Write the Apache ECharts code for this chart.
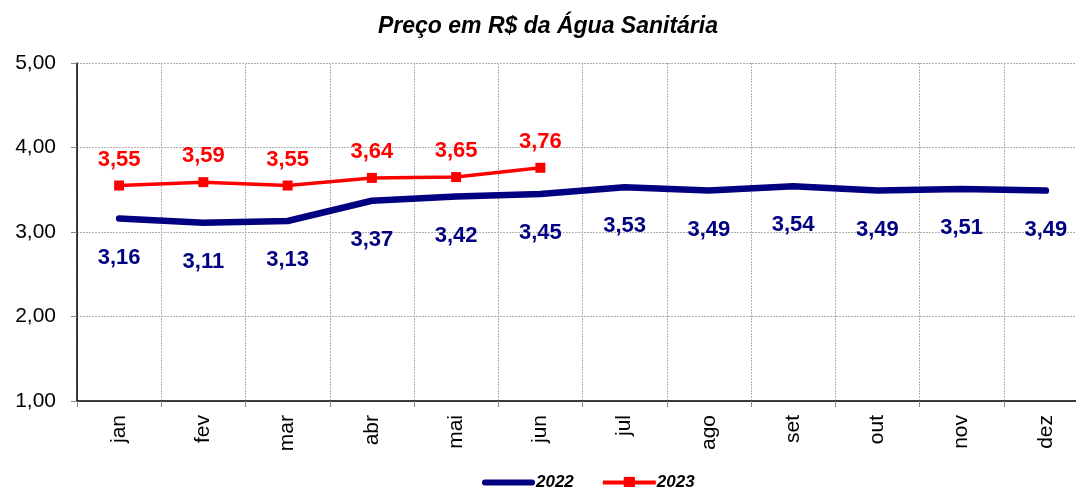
<!DOCTYPE html>
<html lang="pt">
	<head>
		<meta charset="UTF-8" />
		<title>Água Sanitária</title>
		<script src="https://cdn.jsdelivr.net/npm/echarts@6/dist/echarts.min.js"></script>
		<style>
			html, body { margin: 0; padding: 0; background: #fff; overflow: hidden; }
		</style>
	</head>
	<body>
		<!-- chart is a bit wider than the window: the last column is cut off like in the original -->
		<div id="main" style="width: 1090px; height: 487px"></div>
		<script type="text/javascript">
			const months = ["jan", "fev", "mar", "abr", "mai", "jun", "jul", "ago", "set", "out", "nov", "dez"];
			const values2022 = [3.16, 3.11, 3.13, 3.37, 3.42, 3.45, 3.53, 3.49, 3.54, 3.49, 3.51, 3.49];
			const values2023 = [3.55, 3.59, 3.55, 3.64, 3.65, 3.76];
			const fmt = (v) => v.toFixed(2).replace(".", ",");
			const font = "Liberation Sans, Arial, sans-serif";

			const chart = echarts.init(document.getElementById("main"));
			chart.setOption({
				animation: false,
				title: {
					text: "Preço em R$ da Água Sanitária",
					left: 543,
					textAlign: "center",
					top: 10,
					textStyle: { fontFamily: font, fontSize: 23, fontWeight: "bold", fontStyle: "italic", color: "#000" },
				},
				legend: {
					top: 469,
					left: 477,
					itemWidth: 53,
					itemHeight: 14,
					itemGap: 27,
					symbolKeepAspect: true,
					textStyle: { fontFamily: font, fontSize: 17, fontWeight: "bold", fontStyle: "italic", color: "#000", padding: [0, 0, 0, -4] },
					data: [
						{ name: "2022", icon: "path://M3,0H50A3,3 0 0 1 50,6H3A3,3 0 0 1 3,0Z" },
						{ name: "2023", lineStyle: { width: 4 } },
					],
				},
				grid: { left: 77, top: 63, width: 1011, height: 338 },
				xAxis: {
					type: "category",
					data: months,
					boundaryGap: true,
					axisLine: { lineStyle: { color: "#000", width: 1.5 } },
					axisTick: { show: true, lineStyle: { color: "#888" }, length: 6 },
					axisLabel: { rotate: 90, fontFamily: font, fontSize: 21, color: "#000", margin: 14 },
					splitLine: { show: true, lineStyle: { color: "#b0b0b0", type: [2, 1] } },
				},
				yAxis: {
					type: "value",
					min: 1,
					max: 5,
					interval: 1,
					axisLine: { show: true, lineStyle: { color: "#000", width: 1.5 } },
					axisTick: { show: true, length: 6, lineStyle: { color: "#888" } },
					axisLabel: { formatter: (v) => fmt(v), fontFamily: font, fontSize: 21, color: "#000", margin: 21 },
					splitLine: { show: true, lineStyle: { color: "#b0b0b0", type: [2, 1] } },
				},
				series: [
					{
						name: "2022",
						type: "line",
						data: values2022,
						symbol: "none",
						lineStyle: { color: "#000080", width: 6.5, cap: "round", join: "round" },
						itemStyle: { color: "#000080" },
					},
					{
						// labels for 2022 (a line without symbols shows no labels)
						name: "rotulos2022",
						type: "scatter",
						data: values2022,
						symbolSize: 0,
						silent: true,
						itemStyle: { color: "#000080", opacity: 1 },
						label: {
							show: true,
							position: "bottom",
							distance: 28,
							formatter: (p) => fmt(p.value),
							fontFamily: font,
							fontSize: 22,
							fontWeight: "bold",
							color: "#000080",
						},
					},
					{
						name: "2023",
						type: "line",
						data: values2023,
						symbol: "rect",
						symbolSize: 10,
						lineStyle: { color: "#ff0000", width: 3.5 },
						itemStyle: { color: "#ff0000" },
						label: {
							show: true,
							position: "top",
							distance: 10,
							formatter: (p) => fmt(p.value),
							fontFamily: font,
							fontSize: 22,
							fontWeight: "bold",
							color: "#ff0000",
						},
					},
				],
			});
		</script>
	</body>
</html>
